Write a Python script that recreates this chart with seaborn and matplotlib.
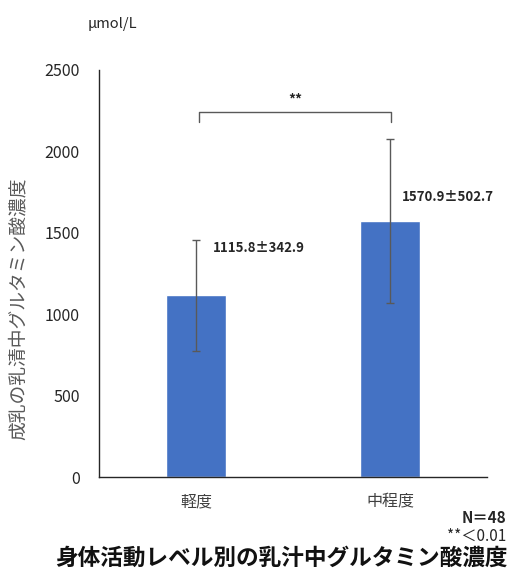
import matplotlib
matplotlib.use("Agg")
import matplotlib.pyplot as plt
import seaborn as sns
import pandas as pd

groups = ["軽度", "中程度"]
means = [1115.8, 1570.9]
sds = [342.9, 502.7]
value_labels = ["1115.8±342.9", "1570.9±502.7"]
yticks = [0, 500, 1000, 1500, 2000, 2500]

sns.set_theme(style="white")
plt.rcParams["font.family"] = ["Noto Sans CJK JP", "DejaVu Sans"]

df = pd.DataFrame({"group": groups, "mean": means})

fig = plt.figure(figsize=(5.18, 5.78), dpi=100)
ax = fig.add_axes([99 / 518, 1 - 477 / 578, 388 / 518, 407 / 578])

sns.barplot(data=df, x="group", y="mean", color="#4472C4", width=0.31,
            saturation=1, errorbar=None, ax=ax)
ax.errorbar(range(len(groups)), means, yerr=sds, fmt="none",
            ecolor="#595959", elinewidth=1, capsize=3, capthick=1)

ax.set_xlim(-0.5, 1.5)
ax.set_ylim(0, 2500)
ax.set_yticks(yticks)
ax.set_yticklabels([str(t) for t in yticks], fontsize=11.5, color="#262626")
ax.tick_params(axis="x", labelsize=11.5, labelcolor="#404040", length=0, pad=12)
ax.tick_params(axis="y", length=0, pad=14)
ax.set_xlabel("")
ax.set_ylabel("成乳の乳清中グルタミン酸濃度", fontsize=13.5, color="#595959")
ax.yaxis.set_label_coords(-0.18, 0.413)
for s in ["top", "right"]:
    ax.spines[s].set_visible(False)
for s in ["left", "bottom"]:
    ax.spines[s].set_color("#262626")
    ax.spines[s].set_linewidth(1.0)

# value annotations beside each error bar
label_pos = [(0.085, 1407), (0.06, 1720)]
for i, (lab, (dx, y)) in enumerate(zip(value_labels, label_pos)):
    ax.text(i + dx, y, lab, fontsize=9.5, fontweight="bold", ha="left",
            va="center", color="#262626")

# significance bracket
yb, ytip = 2240, 2180
ax.plot([0.013, 0.013, 1.007, 1.007], [ytip, yb, yb, ytip], color="#595959", lw=1)
ax.text(0.51, 2320, "**", ha="center", va="center", fontsize=10,
        fontweight="bold", color="#262626")

fig.text(112 / 518, 1 - 24 / 578, "μmol/L", ha="center", va="center",
         fontsize=10.5, color="#262626")
fig.text(506 / 518, 1 - 518 / 578, "N＝48", ha="right", va="center",
         fontsize=11, fontweight="bold", color="#262626")
fig.text(506 / 518, 1 - 536 / 578, "**＜0.01", ha="right", va="center",
         fontsize=11, color="#262626")
fig.text(281 / 518, 1 - 558 / 578, "身体活動レベル別の乳汁中グルタミン酸濃度",
         ha="center", va="center", fontsize=16.3, fontweight="bold", color="#111111")

fig.savefig("out.png", dpi=100, facecolor="white")
